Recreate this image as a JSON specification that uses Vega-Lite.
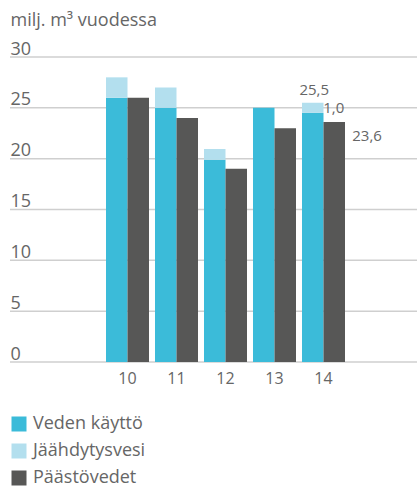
{
  "$schema": "https://vega.github.io/schema/vega-lite/v6.json",
  "autosize": "none",
  "width": 407,
  "height": 305,
  "padding": {"left": 10, "top": 57, "right": 0, "bottom": 124},
  "config": {
    "font": "Open Sans",
    "view": {"stroke": null},
    "text": {"color": "#666666", "font": "Open Sans"}
  },
  "layer": [
    {
      "data": {"values": [{"tick": 0}, {"tick": 5}, {"tick": 10}, {"tick": 15}, {"tick": 20}, {"tick": 25}, {"tick": 30}]},
      "mark": {"type": "rule", "color": "#cfcfcf", "strokeWidth": 1.5},
      "encoding": {
        "y": {"field": "tick", "type": "quantitative"}
      }
    },
    {
      "data": {
        "values": [
          {"year": "10", "group": "a", "series": "Veden käyttö", "value": 26},
          {"year": "10", "group": "a", "series": "Jäähdytysvesi", "value": 2},
          {"year": "10", "group": "b", "series": "Päästövedet", "value": 26},
          {"year": "11", "group": "a", "series": "Veden käyttö", "value": 25},
          {"year": "11", "group": "a", "series": "Jäähdytysvesi", "value": 2},
          {"year": "11", "group": "b", "series": "Päästövedet", "value": 24},
          {"year": "12", "group": "a", "series": "Veden käyttö", "value": 19.9},
          {"year": "12", "group": "a", "series": "Jäähdytysvesi", "value": 1.05},
          {"year": "12", "group": "b", "series": "Päästövedet", "value": 19},
          {"year": "13", "group": "a", "series": "Veden käyttö", "value": 25},
          {"year": "13", "group": "a", "series": "Jäähdytysvesi", "value": 0},
          {"year": "13", "group": "b", "series": "Päästövedet", "value": 23},
          {"year": "14", "group": "a", "series": "Veden käyttö", "value": 24.5},
          {"year": "14", "group": "a", "series": "Jäähdytysvesi", "value": 1.0},
          {"year": "14", "group": "b", "series": "Päästövedet", "value": 23.6}
        ]
      },
      "mark": {"type": "bar"},
      "encoding": {
        "x": {
          "field": "year", "type": "nominal",
          "scale": {"range": [96, 335], "paddingInner": 0.1224, "paddingOuter": 0},
          "axis": {
            "title": null, "domain": false, "ticks": false, "tickSize": 0, "grid": false,
            "labelAngle": 0, "labelFontSize": 16, "labelColor": "#666666",
            "labelPadding": 8, "labelFont": "Open Sans"
          }
        },
        "xOffset": {"field": "group", "type": "nominal", "scale": {"paddingInner": 0, "paddingOuter": 0}},
        "y": {
          "field": "value", "type": "quantitative", "stack": "zero",
          "scale": {"domain": [0, 30]},
          "axis": {
            "values": [0, 5, 10, 15, 20, 25, 30],
            "domain": false, "ticks": false, "tickSize": 0, "grid": false,
            "labelAlign": "left", "labelBaseline": "alphabetic", "labelPadding": 0,
            "labelOffset": -3, "labelFontSize": 18, "labelColor": "#666666", "labelFont": "Open Sans",
            "title": "milj. m³ vuodessa", "titleAngle": 0, "titleAlign": "left",
            "titleBaseline": "alphabetic", "titleX": 0, "titleY": -32,
            "titleFontSize": 18, "titleFontWeight": "normal", "titleColor": "#666666", "titleFont": "Open Sans"
          }
        },
        "color": {
          "field": "series", "type": "nominal",
          "scale": {
            "domain": ["Veden käyttö", "Jäähdytysvesi", "Päästövedet"],
            "range": ["#3bbbd9", "#b3dfee", "#575756"]
          },
          "legend": {
            "title": null, "orient": "none", "legendX": 0, "legendY": 358,
            "direction": "vertical", "symbolType": "square", "symbolSize": 225,
            "symbolStrokeWidth": 0, "labelFontSize": 18, "labelColor": "#666666",
            "labelFont": "Open Sans", "rowPadding": 9, "labelOffset": 5, "padding": 0
          }
        },
        "order": {"field": "series", "sort": "descending"}
      }
    },
    {
      "data": {"values": [{"year": "14", "group": "a", "value": 25.5, "label": "25,5"}]},
      "mark": {"type": "text", "fontSize": 15, "align": "center", "baseline": "alphabetic", "dy": -8, "dx": 1.5},
      "encoding": {
        "x": {"field": "year", "type": "nominal"},
        "xOffset": {"field": "group", "type": "nominal"},
        "y": {"field": "value", "type": "quantitative"},
        "text": {"field": "label"}
      }
    },
    {
      "data": {"values": [{"year": "14", "group": "b", "value": 25.5, "label": "1,0"}]},
      "mark": {"type": "text", "fontSize": 15, "align": "left", "baseline": "middle", "dy": 5, "dx": -11},
      "encoding": {
        "x": {"field": "year", "type": "nominal"},
        "xOffset": {"field": "group", "type": "nominal"},
        "y": {"field": "value", "type": "quantitative"},
        "text": {"field": "label"}
      }
    },
    {
      "data": {"values": [{"year": "14", "group": "b", "value": 23.6, "label": "23,6"}]},
      "mark": {"type": "text", "fontSize": 15, "align": "left", "baseline": "middle", "dy": 14, "dx": 18},
      "encoding": {
        "x": {"field": "year", "type": "nominal"},
        "xOffset": {"field": "group", "type": "nominal"},
        "y": {"field": "value", "type": "quantitative"},
        "text": {"field": "label"}
      }
    }
  ]
}
